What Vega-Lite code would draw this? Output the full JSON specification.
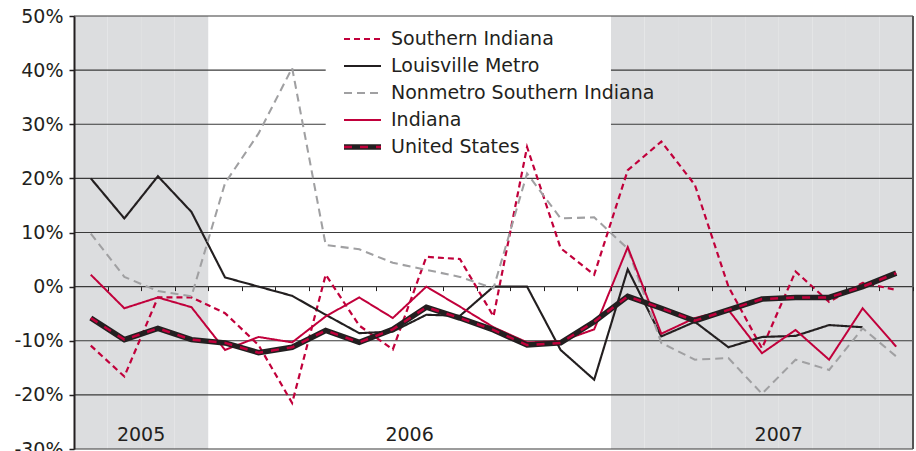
{
"$schema": "https://vega.github.io/schema/vega-lite/v6.json",
"width": 839, "height": 433,
"autosize": {"type": "none"},
"padding": {"left": 74, "top": 16, "right": 3, "bottom": 2},
"background": "white",
"config": {"view": {"stroke": null}, "font": "DejaVu Sans", "legend": {"labelFont": "DejaVu Sans"}},
"datasets": {
"months": [
{"month":"2005-09","year":"2005"},{"month":"2005-10","year":"2005"},{"month":"2005-11","year":"2005"},{"month":"2005-12","year":"2005"},
{"month":"2006-01","year":"2006"},{"month":"2006-02","year":"2006"},{"month":"2006-03","year":"2006"},{"month":"2006-04","year":"2006"},{"month":"2006-05","year":"2006"},{"month":"2006-06","year":"2006"},{"month":"2006-07","year":"2006"},{"month":"2006-08","year":"2006"},{"month":"2006-09","year":"2006"},{"month":"2006-10","year":"2006"},{"month":"2006-11","year":"2006"},{"month":"2006-12","year":"2006"},
{"month":"2007-01","year":"2007"},{"month":"2007-02","year":"2007"},{"month":"2007-03","year":"2007"},{"month":"2007-04","year":"2007"},{"month":"2007-05","year":"2007"},{"month":"2007-06","year":"2007"},{"month":"2007-07","year":"2007"},{"month":"2007-08","year":"2007"},{"month":"2007-09","year":"2007"}
],
"grid": [{"v":-30},{"v":-20},{"v":-10},{"v":0},{"v":10},{"v":20},{"v":30},{"v":40},{"v":50}],
"years": [{"label":"2005","anchor":"2005-11"},{"label":"2006","anchor":"2006-07"},{"label":"2007","anchor":"2007-06"}],
"series": [
{"month":"2005-09","series":"Southern Indiana","value":-10.9},{"month":"2005-10","series":"Southern Indiana","value":-16.6},{"month":"2005-11","series":"Southern Indiana","value":-2.0},{"month":"2005-12","series":"Southern Indiana","value":-2.0},{"month":"2006-01","series":"Southern Indiana","value":-4.9},{"month":"2006-02","series":"Southern Indiana","value":-10.8},{"month":"2006-03","series":"Southern Indiana","value":-21.5},{"month":"2006-04","series":"Southern Indiana","value":2.2},{"month":"2006-05","series":"Southern Indiana","value":-7.2},{"month":"2006-06","series":"Southern Indiana","value":-11.6},{"month":"2006-07","series":"Southern Indiana","value":5.5},{"month":"2006-08","series":"Southern Indiana","value":5.1},{"month":"2006-09","series":"Southern Indiana","value":-5.5},{"month":"2006-10","series":"Southern Indiana","value":25.8},{"month":"2006-11","series":"Southern Indiana","value":7.1},{"month":"2006-12","series":"Southern Indiana","value":2.2},{"month":"2007-01","series":"Southern Indiana","value":21.5},{"month":"2007-02","series":"Southern Indiana","value":26.8},{"month":"2007-03","series":"Southern Indiana","value":18.8},{"month":"2007-04","series":"Southern Indiana","value":0.0},{"month":"2007-05","series":"Southern Indiana","value":-11.4},{"month":"2007-06","series":"Southern Indiana","value":2.8},{"month":"2007-07","series":"Southern Indiana","value":-2.8},{"month":"2007-08","series":"Southern Indiana","value":0.7},{"month":"2007-09","series":"Southern Indiana","value":-0.6},
{"month":"2005-09","series":"Louisville Metro","value":20.0},{"month":"2005-10","series":"Louisville Metro","value":12.6},{"month":"2005-11","series":"Louisville Metro","value":20.4},{"month":"2005-12","series":"Louisville Metro","value":13.8},{"month":"2006-01","series":"Louisville Metro","value":1.7},{"month":"2006-02","series":"Louisville Metro","value":0.0},{"month":"2006-03","series":"Louisville Metro","value":-1.7},{"month":"2006-04","series":"Louisville Metro","value":-5.2},{"month":"2006-05","series":"Louisville Metro","value":-8.6},{"month":"2006-06","series":"Louisville Metro","value":-8.3},{"month":"2006-07","series":"Louisville Metro","value":-5.2},{"month":"2006-08","series":"Louisville Metro","value":-5.4},{"month":"2006-09","series":"Louisville Metro","value":0.0},{"month":"2006-10","series":"Louisville Metro","value":0.0},{"month":"2006-11","series":"Louisville Metro","value":-11.7},{"month":"2006-12","series":"Louisville Metro","value":-17.2},{"month":"2007-01","series":"Louisville Metro","value":3.2},{"month":"2007-02","series":"Louisville Metro","value":-9.2},{"month":"2007-03","series":"Louisville Metro","value":-6.5},{"month":"2007-04","series":"Louisville Metro","value":-11.2},{"month":"2007-05","series":"Louisville Metro","value":-9.3},{"month":"2007-06","series":"Louisville Metro","value":-9.1},{"month":"2007-07","series":"Louisville Metro","value":-7.1},{"month":"2007-08","series":"Louisville Metro","value":-7.5},
{"month":"2005-09","series":"Nonmetro Southern Indiana","value":9.8},{"month":"2005-10","series":"Nonmetro Southern Indiana","value":1.8},{"month":"2005-11","series":"Nonmetro Southern Indiana","value":-0.8},{"month":"2005-12","series":"Nonmetro Southern Indiana","value":-1.8},{"month":"2006-01","series":"Nonmetro Southern Indiana","value":19.1},{"month":"2006-02","series":"Nonmetro Southern Indiana","value":28.3},{"month":"2006-03","series":"Nonmetro Southern Indiana","value":40.4},{"month":"2006-04","series":"Nonmetro Southern Indiana","value":7.7},{"month":"2006-05","series":"Nonmetro Southern Indiana","value":6.9},{"month":"2006-06","series":"Nonmetro Southern Indiana","value":4.4},{"month":"2006-07","series":"Nonmetro Southern Indiana","value":3.1},{"month":"2006-08","series":"Nonmetro Southern Indiana","value":1.8},{"month":"2006-09","series":"Nonmetro Southern Indiana","value":-0.3},{"month":"2006-10","series":"Nonmetro Southern Indiana","value":20.9},{"month":"2006-11","series":"Nonmetro Southern Indiana","value":12.6},{"month":"2006-12","series":"Nonmetro Southern Indiana","value":12.8},{"month":"2007-01","series":"Nonmetro Southern Indiana","value":7.0},{"month":"2007-02","series":"Nonmetro Southern Indiana","value":-10.4},{"month":"2007-03","series":"Nonmetro Southern Indiana","value":-13.5},{"month":"2007-04","series":"Nonmetro Southern Indiana","value":-13.2},{"month":"2007-05","series":"Nonmetro Southern Indiana","value":-19.8},{"month":"2007-06","series":"Nonmetro Southern Indiana","value":-13.5},{"month":"2007-07","series":"Nonmetro Southern Indiana","value":-15.4},{"month":"2007-08","series":"Nonmetro Southern Indiana","value":-7.7},{"month":"2007-09","series":"Nonmetro Southern Indiana","value":-12.9},
{"month":"2005-09","series":"Indiana","value":2.2},{"month":"2005-10","series":"Indiana","value":-4.0},{"month":"2005-11","series":"Indiana","value":-2.0},{"month":"2005-12","series":"Indiana","value":-3.8},{"month":"2006-01","series":"Indiana","value":-11.7},{"month":"2006-02","series":"Indiana","value":-9.3},{"month":"2006-03","series":"Indiana","value":-10.3},{"month":"2006-04","series":"Indiana","value":-5.5},{"month":"2006-05","series":"Indiana","value":-2.0},{"month":"2006-06","series":"Indiana","value":-5.8},{"month":"2006-07","series":"Indiana","value":0.0},{"month":"2006-08","series":"Indiana","value":-3.7},{"month":"2006-09","series":"Indiana","value":-7.5},{"month":"2006-10","series":"Indiana","value":-10.3},{"month":"2006-11","series":"Indiana","value":-10.1},{"month":"2006-12","series":"Indiana","value":-7.9},{"month":"2007-01","series":"Indiana","value":7.3},{"month":"2007-02","series":"Indiana","value":-8.7},{"month":"2007-03","series":"Indiana","value":-5.8},{"month":"2007-04","series":"Indiana","value":-4.3},{"month":"2007-05","series":"Indiana","value":-12.3},{"month":"2007-06","series":"Indiana","value":-8.0},{"month":"2007-07","series":"Indiana","value":-13.5},{"month":"2007-08","series":"Indiana","value":-4.0},{"month":"2007-09","series":"Indiana","value":-11.1},
{"month":"2005-09","series":"United States","value":-5.8},{"month":"2005-10","series":"United States","value":-9.8},{"month":"2005-11","series":"United States","value":-7.7},{"month":"2005-12","series":"United States","value":-9.8},{"month":"2006-01","series":"United States","value":-10.4},{"month":"2006-02","series":"United States","value":-12.2},{"month":"2006-03","series":"United States","value":-11.2},{"month":"2006-04","series":"United States","value":-8.1},{"month":"2006-05","series":"United States","value":-10.3},{"month":"2006-06","series":"United States","value":-7.9},{"month":"2006-07","series":"United States","value":-3.8},{"month":"2006-08","series":"United States","value":-5.8},{"month":"2006-09","series":"United States","value":-8.0},{"month":"2006-10","series":"United States","value":-10.8},{"month":"2006-11","series":"United States","value":-10.4},{"month":"2006-12","series":"United States","value":-6.5},{"month":"2007-01","series":"United States","value":-1.8},{"month":"2007-02","series":"United States","value":-4.0},{"month":"2007-03","series":"United States","value":-6.3},{"month":"2007-04","series":"United States","value":-4.3},{"month":"2007-05","series":"United States","value":-2.3},{"month":"2007-06","series":"United States","value":-2.0},{"month":"2007-07","series":"United States","value":-2.0},{"month":"2007-08","series":"United States","value":0.0},{"month":"2007-09","series":"United States","value":2.5}
]
},
"layer": [
{
"data": {"name": "months"},
"transform": [{"filter": "datum.year != '2006'"}],
"mark": {"type": "rect", "color": "#dcdddf"},
"encoding": {
"x": {"field": "month", "type": "ordinal",
"scale": {"type": "band", "paddingInner": 0, "paddingOuter": 0},
"axis": {"orient": "bottom", "offset": -162.4, "domain": false, "labels": false, "ticks": true, "tickSize": 4, "tickColor": "#231f20", "tickWidth": 1, "tickBand": "extent", "title": null, "grid": false, "zindex": 1}},
"y": {"datum": 50, "type": "quantitative",
"scale": {"domain": [-30, 50], "nice": false, "zero": false},
"axis": {"values": [-30,-20,-10,0,10,20,30,40,50], "labelExpr": "datum.value + '%'", "grid": false, "domain": true, "domainColor": "#231f20", "domainWidth": 2, "ticks": true, "tickSize": 5, "tickColor": "#231f20", "tickWidth": 1.5, "labelFont": "DejaVu Sans", "labelFontSize": 19, "labelColor": "#231f20", "labelPadding": 6, "title": null, "zindex": 1}},
"y2": {"datum": -30}
}
},
{
"data": {"name": "grid"},
"mark": {"type": "rule", "color": "#3a3a3a", "strokeWidth": 1.2},
"encoding": {"y": {"field": "v", "type": "quantitative"}}
},
{
"data": {"values": [{}]},
"mark": {"type": "rule", "color": "#555555", "strokeWidth": 2},
"encoding": {"x": {"datum": "2007-09", "type": "ordinal", "bandPosition": 1}}
},
{
"data": {"values": [{}]},
"mark": {"type": "rect", "color": "white"},
"encoding": {
"x": {"datum": "2006-04", "type": "ordinal", "bandPosition": 0.5},
"x2": {"datum": "2007-01", "bandPosition": 0},
"y": {"datum": 49.7, "type": "quantitative"},
"y2": {"datum": 24}
}
},
{
"data": {"name": "years"},
"mark": {"type": "text", "fontSize": 19, "color": "#231f20", "baseline": "middle", "align": "center", "font": "DejaVu Sans"},
"encoding": {
"x": {"field": "anchor", "type": "ordinal", "bandPosition": 0},
"y": {"datum": -27.4, "type": "quantitative"},
"text": {"field": "label"}
}
},
{
"data": {"name": "series"},
"transform": [{"filter": "datum.series != 'United States'"}],
"mark": {"type": "line"},
"encoding": {
"x": {"field": "month", "type": "ordinal", "bandPosition": 0.5},
"y": {"field": "value", "type": "quantitative"},
"color": {"field": "series", "type": "nominal",
"scale": {"domain": ["Southern Indiana","Louisville Metro","Nonmetro Southern Indiana","Indiana","United States"], "range": ["#c1003b","#231f20","#a0a0a2","#c1003b","#231f20"]},
"legend": {"title": null, "orient": "none", "legendX": 268.5, "legendY": 9.5, "symbolType": "stroke", "symbolSize": 1369, "symbolStrokeWidth": 2.2, "labelFontSize": 19, "labelColor": "#231f20", "labelOffset": 8.5, "clipHeight": 27, "rowPadding": 0, "padding": 0, "labelLimit": 400,
"encode": {"symbols": {"update": {
"strokeDash": {"signal": "datum.value == 'Southern Indiana' ? [6,4] : datum.value == 'Nonmetro Southern Indiana' ? [8,5] : [1,0]"}}}}}},
"strokeDash": {"field": "series", "type": "nominal",
"scale": {"domain": ["Southern Indiana","Louisville Metro","Nonmetro Southern Indiana","Indiana"], "range": [[6,4],[1,0],[8,5],[1,0]]},
"legend": null},
"strokeWidth": {"field": "series", "type": "nominal",
"scale": {"domain": ["Southern Indiana","Louisville Metro","Nonmetro Southern Indiana","Indiana"], "range": [2.2, 2, 2.5, 2]},
"legend": null}
}
},
{
"data": {"name": "series"},
"transform": [{"filter": "datum.series == 'United States'"}],
"mark": {"type": "line", "strokeWidth": 5.5},
"encoding": {
"x": {"field": "month", "type": "ordinal", "bandPosition": 0.5},
"y": {"field": "value", "type": "quantitative"},
"color": {"field": "series", "type": "nominal",
"scale": {"domain": ["United States"], "range": ["#231f20"]},
"legend": {"title": null, "orient": "none", "legendX": 267, "legendY": 117.5, "symbolType": "stroke", "symbolSize": 1369, "symbolStrokeWidth": 5.5, "labelFontSize": 19, "labelExpr": "''", "labelOffset": 8.5, "clipHeight": 27, "rowPadding": 0, "padding": 0, "zindex": 1}}
}
},
{
"data": {"name": "series"},
"transform": [{"filter": "datum.series == 'United States'"}],
"mark": {"type": "line", "strokeWidth": 2.5, "strokeDash": [8,8]},
"encoding": {
"x": {"field": "month", "type": "ordinal", "bandPosition": 0.5},
"y": {"field": "value", "type": "quantitative"},
"color": {"field": "series", "type": "nominal",
"scale": {"domain": ["United States"], "range": ["#c1003b"]},
"legend": {"title": null, "orient": "none", "legendX": 268.5, "legendY": 117.5, "symbolType": "stroke", "symbolSize": 1369, "symbolStrokeWidth": 2.5, "symbolDash": [8,8], "labelFontSize": 19, "labelExpr": "''", "labelOffset": 8.5, "clipHeight": 27, "rowPadding": 0, "padding": 0, "zindex": 2}}
}
}
],
"resolve": {"scale": {"color": "independent", "strokeDash": "independent", "strokeWidth": "independent"}}
}
